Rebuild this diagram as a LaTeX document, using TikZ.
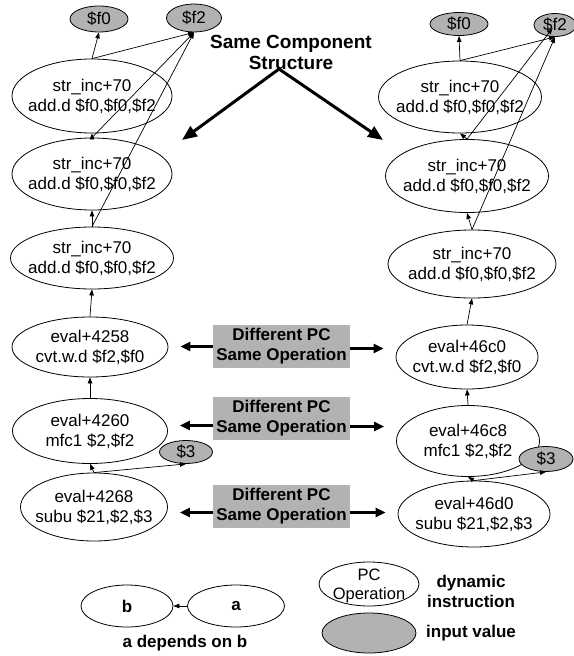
\documentclass[tikz,border=0pt]{standalone}
\usepackage{fontspec}
\setmainfont{Liberation Sans}
\usetikzlibrary{shapes.geometric,arrows.meta}
\definecolor{valgray}{gray}{0.7}
\begin{document}
\begin{tikzpicture}[x=1pt,y=-1pt,
  instr/.style={ellipse, draw, line width=0.8pt, inner sep=0pt},
  inval/.style={ellipse, draw, line width=0.8pt, fill=valgray, inner sep=0pt,
                font=\fontsize{17}{20}\selectfont},
  txt/.style={font=\fontsize{17}{20}\selectfont, align=center},
  boldtxt/.style={font=\fontsize{17}{20}\selectfont\bfseries, align=center},
  dep/.style={-{Triangle[length=6pt,width=4.5pt]}, line width=0.7pt},
  notebox/.style={fill=valgray, minimum width=137pt, minimum height=43pt,
                  inner sep=0pt, align=center,
                  font=\fontsize{17}{20}\selectfont\bfseries},
  pointer/.style={-{Triangle[length=10pt,width=9pt]}, line width=2.4pt,
                  shorten >=12pt},
  bigpointer/.style={-{Triangle[length=15pt,width=12pt]}, line width=3pt}
]
\useasboundingbox (0,0) rectangle (573,656);

% ---------- left trace ----------
\node[inval, minimum width=58pt, minimum height=26pt] (Lf0) at (99,19) {\$f0};
\node[inval, minimum width=55pt, minimum height=28pt] (Lf2) at (194,18) {\$f2};
\node[instr, minimum width=160pt, minimum height=74pt,
      label={[txt]center:{str\_inc+70\\add.d \$f0,\$f0,\$f2}}] (L1) at (92,96) {};
\node[instr, minimum width=160pt, minimum height=72pt,
      label={[txt]center:{str\_inc+70\\add.d \$f0,\$f0,\$f2}}] (L2) at (92,174) {};
\node[instr, minimum width=163pt, minimum height=62pt,
      label={[txt]center:{str\_inc+70\\add.d \$f0,\$f0,\$f2}}] (L3) at (92,258) {};
\node[instr, minimum width=156pt, minimum height=60pt,
      label={[txt]center:{eval+4258\\cvt.w.d \$f2,\$f0}}] (L4) at (90,347) {};
\node[instr, minimum width=155pt, minimum height=65pt,
      label={[txt]center:{eval+4260\\mfc1 \$2,\$f2}}] (L5) at (90,431) {};
\node[inval, minimum width=53pt, minimum height=23pt] (Lv3) at (186,452) {\$3};
\node[instr, minimum width=147pt, minimum height=68pt,
      label={[txt]center:{eval+4268\\subu \$21,\$2,\$3}}] (L6) at (94,507) {};

\draw[dep] (L1.north) -- (Lf0.south);
\draw[dep] (L1.north) -- (Lf2.south);
\draw[dep] (L2.north) -- (Lf2.south);
\draw[dep] (L3.north) -- (Lf2.south);
\draw[dep] (L2.north) -- (L1.south);
\draw[dep] (L3.north) -- (L2.south);
\draw[dep] (L4.north) -- (L3.south);
\draw[dep] (L5.north) -- (L4.south);
\draw[dep] (L6.north) -- (L5.south);
\draw[dep] (L6.north) -- (Lv3.south);

% ---------- right trace ----------
\node[inval, minimum width=58pt, minimum height=23pt] (Rf0) at (459,24) {\$f0};
\node[inval, minimum width=42pt, minimum height=23pt] (Rf2) at (555,25) {\$f2};
\node[instr, minimum width=163pt, minimum height=72pt,
      label={[txt]center:{str\_inc+70\\add.d \$f0,\$f0,\$f2}}] (R1) at (460,97) {};
\node[instr, minimum width=163pt, minimum height=73pt,
      label={[txt]center:{str\_inc+70\\add.d \$f0,\$f0,\$f2}}] (R2) at (467,176) {};
\node[instr, minimum width=168pt, minimum height=68pt,
      label={[txt]center:{str\_inc+70\\add.d \$f0,\$f0,\$f2}}] (R3) at (472,264) {};
\node[instr, minimum width=142pt, minimum height=64pt,
      label={[txt]center:{eval+46c0\\cvt.w.d \$f2,\$f0}}] (R4) at (467,357) {};
\node[instr, minimum width=143pt, minimum height=71pt,
      label={[txt]center:{eval+46c8\\mfc1 \$2,\$f2}}] (R5) at (468,441) {};
\node[inval, minimum width=54pt, minimum height=25pt] (Rv3) at (546,459) {\$3};
\node[instr, minimum width=152pt, minimum height=66pt,
      label={[txt]center:{eval+46d0\\subu \$21,\$2,\$3}}] (R6) at (474,514) {};

\draw[dep] (R1.north) -- (Rf0.south);
\draw[dep] (R1.north) -- (Rf2.south);
\draw[dep, shorten >=4pt] (R2.north) -- (Rf2.center);
\draw[dep] (R3.north) -- (Rf2.south);
\draw[dep] (R2.north) -- (R1.south);
\draw[dep] (R3.north) -- (R2.south);
\draw[dep] (R4.north) -- (R3.south);
\draw[dep] (R5.north) -- (R4.south);
\draw[dep] (R6.north) -- (R5.south);
\draw[dep] (R6.north) -- (Rv3.south);

% ---------- annotations ----------
\node[font=\fontsize{19}{21}\selectfont\bfseries, align=center] (scs) at (291,52)
  {Same Component\\Structure};
\coordinate (fork) at (279,69);
\coordinate (lstruct) at (182,140);
\coordinate (rstruct) at (383,140);
\draw[bigpointer] (fork) -- (lstruct);
\draw[bigpointer] (fork) -- (rstruct);

\node[notebox] (D1) at (281.5,346.5) {Different PC\\Same Operation};
\node[notebox] (D2) at (281.5,418.5) {Different PC\\Same Operation};
\node[notebox] (D3) at (281.5,506.5) {Different PC\\Same Operation};
\draw[pointer] (D1.west) -- (D1.west -| L4.east);
\draw[pointer] ([yshift=-2pt]D1.east) -- ([yshift=-2pt]D1.east -| R4.west);
\draw[pointer] ([yshift=-7pt]D2.west) -- ([yshift=-7pt]D2.west -| L5.east);
\draw[pointer] ([yshift=-8pt]D2.east) -- ([yshift=-8pt]D2.east -| R5.west);
\draw[pointer] ([yshift=-6pt]D3.west) -- ([yshift=-6pt]D3.west -| L6.east);
\draw[pointer] ([yshift=-6pt]D3.east) -- ([yshift=-6pt]D3.east -| R6.west);

% ---------- legend ----------
\node[instr, minimum width=92pt, minimum height=42pt, boldtxt] (nb) at (127,606) {b};
\node[instr, minimum width=97pt, minimum height=42pt, boldtxt] (na) at (236,606) {a};
\draw[dep] (na.west) -- (nb.east);
\node[boldtxt] (deplbl) at (185,643) {a depends on b};

\node[instr, minimum width=100pt, minimum height=44pt,
      label={[font=\fontsize{16.5}{19}\selectfont, align=center, yshift=-2pt]center:{PC\\Operation}}]
  (kinstr) at (369,584) {};
\node[inval, minimum width=94pt, minimum height=40pt] (kval) at (369,633) {};
\node[boldtxt] (kinstrlbl) at (471,591) {dynamic\\instruction};
\node[boldtxt] (kvallbl) at (471,633) {input value};
\end{tikzpicture}
\end{document}
